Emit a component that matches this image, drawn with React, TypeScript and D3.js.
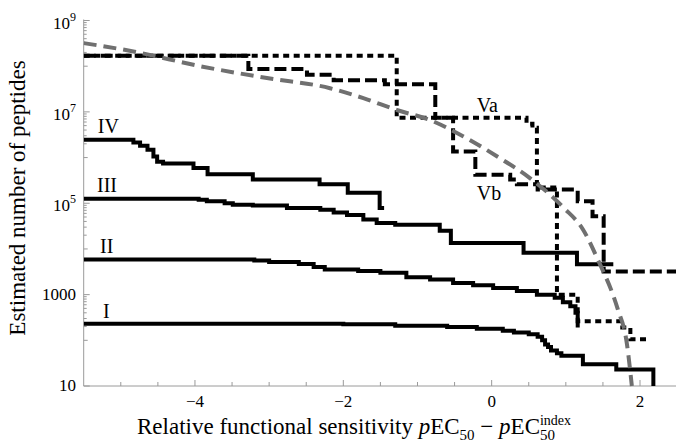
import React from "react";
import * as d3 from "d3";

// ---- data ----
const curveI_x = [-5.5, -2.0, -1.3, -0.6, -0.2, 0.15, 0.3, 0.5, 0.62, 0.68, 0.72, 0.76, 0.8, 0.88, 0.94, 1.23, 1.68];
const curveI_v = [229, 224, 209, 195, 178, 162, 148, 135, 120, 100, 81, 71, 60, 52, 46, 30, 23];
const curveI_end = 2.18;
const curveI_drop = 10;

const curveII_x = [-5.5, -3.2, -3.0, -2.6, -2.4, -2.25, -1.8, -1.5, -1.15, -0.83, -0.52, -0.25, 0.02, 0.34, 0.61, 0.85, 0.96, 1.06, 1.13];
const curveII_v = [5900, 5600, 5200, 4700, 4000, 3550, 3300, 3000, 2400, 2150, 1800, 1600, 1400, 1200, 1000, 850, 680, 560, 400];
const curveII_end = 1.16;
const curveII_drop = 190;

const curveIII_x = [-5.5, -3.95, -3.84, -3.6, -3.49, -3.22, -2.76, -2.31, -2.13, -1.95, -1.73, -1.55, -1.3, -0.7, -0.55, 0.43, 1.15];
const curveIII_v = [126000, 120000, 110000, 100000, 93000, 89000, 79000, 72000, 63000, 55000, 44000, 37000, 34000, 25000, 13500, 8300, 4600];
const curveIII_end = 1.64;

const curveIV_x = [-5.5, -4.83, -4.74, -4.64, -4.56, -4.51, -4.43, -4.02, -3.83, -3.22, -2.32, -1.94, -1.51];
const curveIV_v = [2450000, 2140000, 1820000, 1480000, 1050000, 810000, 740000, 590000, 430000, 330000, 260000, 170000, 79000];
const curveIV_end = -1.45;

const curveVa_x = [-5.5, -1.28, 0.47, 0.55, 0.61, 0.88, 1.16, 1.73, 1.87];
const curveVa_v = [1.7e8, 7.4e6, 5.5e6, 4.5e6, 220000, 1000, 263, 190, 105];
const curveVa_end = 2.13;

const curveVb_x = [-5.5, -3.28, -2.49, -2.13, -1.44, -0.76, -0.52, -0.22, 0.25, 0.34, 0.62, 1.16, 1.36, 1.51];
const curveVb_v = [1.7e8, 8.7e7, 6.5e7, 4.9e7, 4.0e7, 7.4e6, 1.35e6, 420000, 330000, 260000, 200000, 110000, 52000, 3200];
const curveVb_end = 2.5;

const model_x = [-5.5, -4.83, -3.93, -3.03, -2.18, -1.73, -1.28, -0.83, -0.38, 0.07, 0.52, 0.97, 1.235, 1.43, 1.7, 1.82, 1.89];
const model_v = [3.2e8, 2.1e8, 1.0e8, 5.5e7, 3.3e7, 2.0e7, 1.1e7, 6.6e6, 2.9e6, 1.07e6, 350000, 80000, 26000, 5900, 480, 91, 10];

const xMajorTicks = [-4, -2, 0, 2];
const xMinorTicks = [-5, -4.5, -3.5, -3, -2.5, -1.5, -1, -0.5, 0.5, 1, 1.5];
const yMajorTicks = [
  { v: 1e9, base: "10", exp: "9" },
  { v: 1e7, base: "10", exp: "7" },
  { v: 1e5, base: "10", exp: "5" },
  { v: 1000, base: "1000", exp: "" },
  { v: 10, base: "10", exp: "" },
];
const yMinorDecades = [1e8, 1e6, 1e4, 100];
const yMinorMultipliers = [1, 2, 3, 4, 5, 6, 7, 8, 9];

const curveLabels = [
  { t: "IV", x: -5.31, v: 3.5e6 },
  { t: "III", x: -5.32, v: 1.8e5 },
  { t: "II", x: -5.28, v: 8100 },
  { t: "I", x: -5.24, v: 310 },
  { t: "Va", x: -0.2, v: 1.0e7 },
  { t: "Vb", x: -0.2, v: 1.2e5 },
];

// ---- layout ----
const W = 676;
const H = 447;
const xs = d3.scaleLinear().domain([-5.5, 2.5]).range([83.7, 677.1]);
const ys = d3.scaleLog().domain([10, 1e9]).range([386, 20.5]);
const FONT = "'Liberation Serif', 'Times New Roman', Times, serif";
const AXIS = "#9a9a9a";

function stepPath(xArr: number[], vArr: number[], end: number, drop?: number) {
  const pts: [number, number][] = xArr.map((x, i) => [x, vArr[i]]);
  pts.push([end, vArr[vArr.length - 1]]);
  if (drop !== undefined) pts.push([end, drop]);
  const line = d3
    .line<[number, number]>()
    .x((d) => xs(d[0]))
    .y((d) => ys(d[1]))
    .curve(d3.curveStepAfter);
  return line(pts) || "";
}

function smoothPath(xArr: number[], vArr: number[]) {
  const pts: [number, number][] = xArr.map((x, i) => [x, vArr[i]]);
  const line = d3
    .line<[number, number]>()
    .x((d) => xs(d[0]))
    .y((d) => ys(d[1]))
    .curve(d3.curveMonotoneX);
  return line(pts) || "";
}

export default function App() {
  const x0 = xs.range()[0];
  const yBottom = ys(10);
  return (
    <svg
      width={W}
      height={H}
      style={{ position: "absolute", left: 0, top: 0, background: "#fff" }}
      fontFamily={FONT}
    >
      <defs>
        <clipPath id="plot">
          <rect x={x0} y={0} width={W - x0} height={yBottom + 1} />
        </clipPath>
      </defs>
      <rect x={0} y={0} width={W} height={H} fill="#fff" />

      {/* axes */}
      <line x1={x0} x2={x0} y1={ys(1e9) - 1} y2={yBottom} stroke={AXIS} strokeWidth={1} />
      <line x1={x0} x2={W} y1={yBottom} y2={yBottom} stroke={AXIS} strokeWidth={1} />
      {xMajorTicks.map((t) => (
        <g key={"xM" + t}>
          <line x1={xs(t)} x2={xs(t)} y1={yBottom} y2={yBottom - 6} stroke={AXIS} />
          <text x={xs(t)} y={407} fontSize={17} textAnchor="middle" fill="#000">
            {t < 0 ? "\u2212" + Math.abs(t) : String(t)}
          </text>
        </g>
      ))}
      {xMinorTicks.map((t) => (
        <line key={"xm" + t} x1={xs(t)} x2={xs(t)} y1={yBottom} y2={yBottom - 4} stroke={AXIS} />
      ))}
      {yMajorTicks.map((t) => (
        <g key={"yM" + t.v}>
          <line x1={x0} x2={x0 + 6} y1={ys(t.v)} y2={ys(t.v)} stroke={AXIS} />
          <text x={76} y={ys(t.v) + (t.exp ? 8 : 5)} fontSize={17} textAnchor="end" fill="#000">
            {t.base}
            {t.exp ? (
              <tspan fontSize={12} dy={-8}>
                {t.exp}
              </tspan>
            ) : null}
          </text>
        </g>
      ))}
      {yMinorDecades.map((d) =>
        yMinorMultipliers.map((m) => (
          <line
            key={"ym" + d + "_" + m}
            x1={x0}
            x2={x0 + (m === 1 ? 4 : 3)}
            y1={ys(d * m)}
            y2={ys(d * m)}
            stroke={AXIS}
          />
        ))
      )}

      {/* curves */}
      <g clipPath="url(#plot)" fill="none" stroke="#000" strokeWidth={4}>
        <path d={stepPath(curveI_x, curveI_v, curveI_end, curveI_drop)} />
        <path d={stepPath(curveII_x, curveII_v, curveII_end, curveII_drop)} />
        <path d={stepPath(curveIII_x, curveIII_v, curveIII_end)} />
        <path d={stepPath(curveIV_x, curveIV_v, curveIV_end)} />
        <path d={stepPath(curveVa_x, curveVa_v, curveVa_end)} strokeDasharray="6 4.5" />
        <path d={stepPath(curveVb_x, curveVb_v, curveVb_end)} strokeDasharray="12 5" />
        <path
          d={smoothPath(model_x, model_v)}
          stroke="#707070"
          strokeWidth={4}
          strokeDasharray="13 7"
        />
      </g>

      {/* curve labels */}
      {curveLabels.map((l) => (
        <text key={l.t} x={xs(l.x)} y={ys(l.v)} fontSize={20} fill="#000">
          {l.t}
        </text>
      ))}

      {/* axis titles */}
      <text
        transform="translate(25,198) rotate(-90)"
        textAnchor="middle"
        fontSize={23}
        fill="#000"
      >
        Estimated number of peptides
      </text>
      <text x={137} y={434} fontSize={23} fill="#000">
        Relative functional sensitivity{" "}
        <tspan fontStyle="italic">p</tspan>EC
        <tspan fontSize={15} dy={6}>
          50
        </tspan>
        <tspan dy={-6}> {"\u2212"} </tspan>
        <tspan fontStyle="italic">p</tspan>EC
        <tspan fontSize={15} dy={6}>
          50
        </tspan>
        <tspan fontSize={14} dx={-15} dy={-15}>
          index
        </tspan>
      </text>
    </svg>
  );
}
